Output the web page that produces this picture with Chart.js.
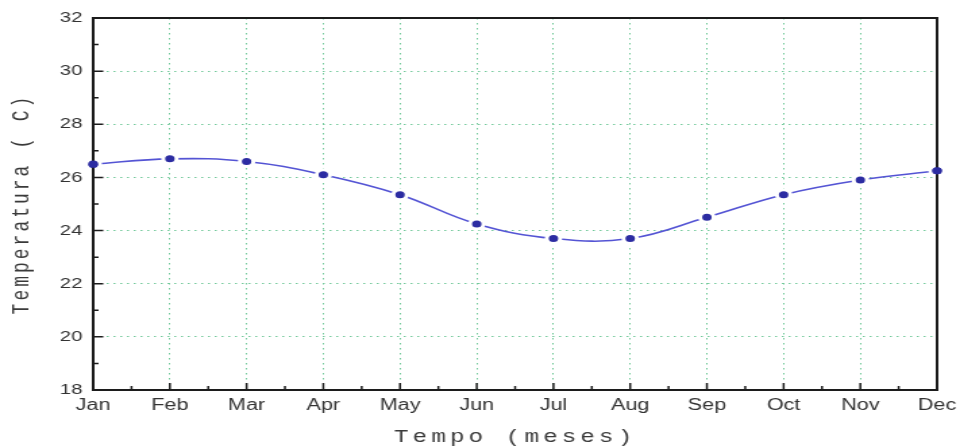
<!DOCTYPE html>
<html>
<head>
<meta charset="utf-8">
<script src="https://cdn.jsdelivr.net/npm/chart.js@4"></script>
<style>
  html, body { margin: 0; padding: 0; background: #ffffff; }
  #chart { width: 960px; height: 448px; }
</style>
</head>
<body>
<!-- drawn on a narrower canvas and widened to 960px, which gives the wide lettering and oval markers -->
<canvas id="chart" width="711" height="448" style="width:960px;height:448px"></canvas>
<script>
// Monthly mean temperature (°C)
const months = ['Jan', 'Feb', 'Mar', 'Apr', 'May', 'Jun', 'Jul', 'Aug', 'Sep', 'Oct', 'Nov', 'Dec'];
const temperatures = [26.5, 26.7, 26.6, 26.1, 25.35, 24.25, 23.7, 23.7, 24.5, 25.35, 25.9, 26.25];

// Y axis range and tick step
const Y_MIN = 18;
const Y_MAX = 32;
const Y_STEP = 2;

const xTitle = 'Tempo (meses)';
const yTitle = 'Temperatura ( C)';

const GRID_COLOR = '#72c99a';
const FRAME_COLOR = '#1c1c1c';
const LINE_COLOR = '#5454d4';
const MARKER_COLOR = '#2c2ca2';
const LABEL_COLOR = '#333333';
const TITLE_FONT = "'Liberation Mono', 'DejaVu Sans Mono', monospace";
const TICK_FONT = "'Liberation Sans', Arial, sans-serif";

// Frame, inward tick marks and end markers redrawn over the frame
const framePlugin = {
  id: 'framePlugin',
  beforeDraw(chart) {
    // axis titles are drawn in the grid layer: give them wide tracking
    chart.ctx.letterSpacing = '3px';
  },
  beforeDatasetsDraw(chart) {
    chart.ctx.letterSpacing = '0px';
  },
  afterDatasetsDraw(chart) {
    const { ctx, chartArea: a, scales: { x, y } } = chart;
    ctx.save();
    ctx.strokeStyle = FRAME_COLOR;
    ctx.lineWidth = 2;
    ctx.strokeRect(a.left, a.top, a.right - a.left, a.bottom - a.top);

    ctx.lineWidth = 1.5;
    ctx.beginPath();
    // left axis: long ticks on labelled values, short ones in between
    for (let v = Y_MIN + 1; v < Y_MAX; v++) {
      const py = y.getPixelForValue(v);
      const len = (v - Y_MIN) % Y_STEP === 0 ? 7.5 : 4;
      ctx.moveTo(a.left, py);
      ctx.lineTo(a.left + len, py);
    }
    // bottom axis: long ticks on months, short ones half way
    for (let i = 0; i < months.length; i++) {
      const px = x.getPixelForValue(i);
      if (i > 0 && i < months.length - 1) {
        ctx.moveTo(px, a.bottom);
        ctx.lineTo(px, a.bottom - 7);
      }
      if (i < months.length - 1) {
        const mid = (px + x.getPixelForValue(i + 1)) / 2;
        ctx.moveTo(mid, a.bottom);
        ctx.lineTo(mid, a.bottom - 4);
      }
    }
    ctx.stroke();

    // first and last markers sit on the frame
    const pts = chart.getDatasetMeta(0).data;
    ctx.fillStyle = MARKER_COLOR;
    [pts[0], pts[pts.length - 1]].forEach(p => {
      ctx.beginPath();
      ctx.arc(p.x, p.y, 3.6, 0, Math.PI * 2);
      ctx.fill();
    });
    ctx.restore();
  }
};

new Chart(document.getElementById('chart'), {
  type: 'line',
  data: {
    labels: months,
    datasets: [{
      data: temperatures,
      borderColor: LINE_COLOR,
      borderWidth: 1.6,
      tension: 0.4,
      fill: false,
      clip: false,
      pointRadius: 5,
      pointBorderWidth: 3,
      pointBackgroundColor: MARKER_COLOR,
      pointBorderColor: '#ffffff'
    }]
  },
  options: {
    responsive: false,
    animation: false,
    devicePixelRatio: 1,
    layout: { padding: { left: 0, right: 17, top: 18, bottom: 0 } },
    plugins: {
      legend: { display: false },
      tooltip: { enabled: false }
    },
    scales: {
      x: {
        type: 'category',
        offset: false,
        afterFit(scale) {
          scale.height = 58;
          scale.paddingLeft = 0;
          scale.paddingRight = 0;
        },
        grid: {
          drawTicks: false,
          lineWidth: 1,
          color: c => (c.index === 0 || c.index === months.length - 1) ? 'rgba(0,0,0,0)' : GRID_COLOR
        },
        border: { display: false, dash: [1.5, 3.5] },
        ticks: {
          z: 1,
          padding: 6,
          maxRotation: 0,
          autoSkip: false,
          color: LABEL_COLOR,
          font: { family: TICK_FONT, size: 16 }
        },
        title: {
          display: true,
          text: xTitle,
          color: '#3a3a3a',
          font: { family: TITLE_FONT, size: 18 },
          padding: { top: 0, bottom: 0 }
        }
      },
      y: {
        min: Y_MIN,
        max: Y_MAX,
        afterFit(scale) {
          scale.width = 69;
          scale.paddingTop = 0;
          scale.paddingBottom = 0;
        },
        grid: {
          drawTicks: false,
          lineWidth: 1,
          color: c => (c.tick && (c.tick.value === Y_MIN || c.tick.value === Y_MAX)) ? 'rgba(0,0,0,0)' : GRID_COLOR
        },
        border: { display: false, dash: [1.5, 3.5] },
        ticks: {
          z: 1,
          stepSize: Y_STEP,
          padding: 8,
          color: LABEL_COLOR,
          font: { family: TICK_FONT, size: 15 }
        },
        title: {
          display: true,
          text: yTitle,
          color: '#3a3a3a',
          font: { family: TITLE_FONT, size: 18 },
          padding: { top: 5.5, bottom: 0 }
        }
      }
    }
  },
  plugins: [framePlugin]
});
</script>
</body>
</html>
